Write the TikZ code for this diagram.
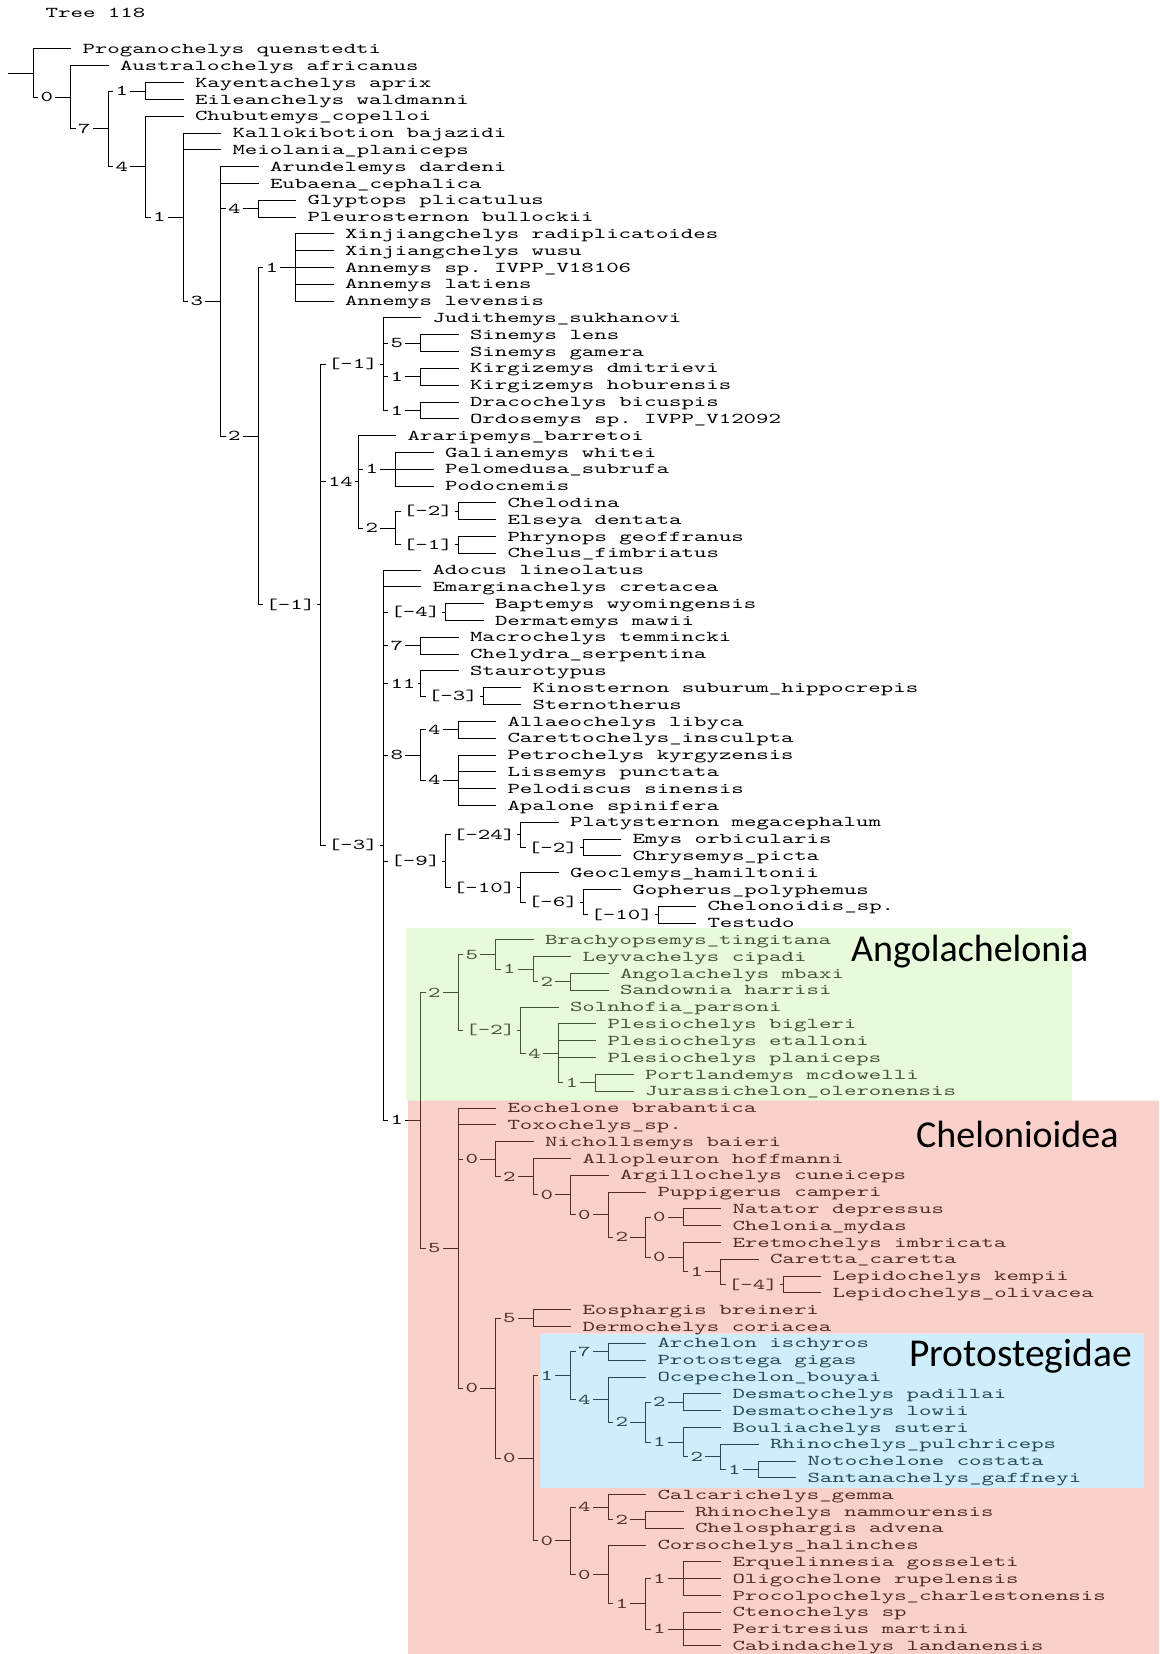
\documentclass[tikz,border=0pt]{standalone}
\usepackage{fontspec}
\usetikzlibrary{calc}
\frenchspacing
\newfontfamily\treefont{lmmono10-regular}[Extension=.otf,FakeStretch=1.58]
\newfontfamily\cladefont{Carlito}
\definecolor{ovgreen}{RGB}{189,246,155}
\definecolor{ovred}{RGB}{238,126,106}
\definecolor{ovblue}{RGB}{112,209,241}
\newcommand\ry[1]{49+(#1-1)*16.81}
\newcommand\leaf[5]{%
  \node[lf] (#1) at ({#3+49},{\ry{#4}}) {#5};
  \draw[br] (#2 |- #1.west) -- ([xshift=-11.5pt]#1.west);}
\newcommand\inode[6]{%
  \coordinate (#1) at ({#4},{\ry{(#5+#6)/2}});
  \coordinate (#1t) at ({#4},{\ry{#5}});
  \coordinate (#1b) at ({#4},{\ry{#6}});
  \draw[br] (#1t) -- (#1b);
  \node[lab] (#1l) at ($(#3 |- #1)+(4.5,0)$) {#2};
  \draw[br] (#3 |- #1) -- (#1l.west);
  \draw[br] (#1l.east) -- (#1);}
\tikzset{
  br/.style={line width=1pt, line cap=rect, black},
  lf/.style={anchor=west, inner sep=0pt, text height=9.2pt, text depth=0pt,
    font={\treefont\fontsize{15}{18}\selectfont}},
  lab/.style={anchor=west, inner xsep=2.5pt, inner ysep=0pt, text height=9.2pt, text depth=0pt,
    font={\treefont\fontsize{15}{18}\selectfont}},
  ttl/.style={anchor=base west, inner sep=0pt, font={\cladefont\fontsize{38}{44}\selectfont}},
}
\begin{document}
\begin{tikzpicture}[x=1pt,y=-1pt]
\path[use as bounding box] (0,0) rectangle (1159,1654);
\fill[white] (0,0) rectangle (1159,1654);
\node[lf] (title) at (45.5,12.7) {Tree 118};
% root
\coordinate (R) at (33.3,{\ry{2.43795}});
\coordinate (Rt) at (33.3,{\ry{1}});
\coordinate (Rb) at (33.3,{\ry{3.8759}});
\draw[br] (Rt) -- (Rb);
\coordinate (stub) at (8.3,{\ry{2.43795}});
\draw[br] (stub) -- (R);
% internal nodes
\inode{Na}{0}{R}{70.8}{2}{5.7518}
\inode{Nb}{7}{Na}{108.3}{3.5}{8.0036}
\inode{Nc}{1}{Nb}{145.8}{3}{4}
\inode{Nd}{4}{Nb}{145.8}{5}{11.0072}
\inode{Ne}{1}{Nd}{183.3}{6}{16.0144}
\inode{Nf}{3}{Ne}{220.8}{8}{24.0287}
\inode{Ng}{4}{Nf}{258.3}{10}{11}
\inode{Nh}{2}{Nf}{258.3}{14}{34.0574}
\inode{Ni}{1}{Nh}{295.8}{12}{16}
\inode{Nj}{[-1]}{Nh}{320.8}{19.75}{48.3647}
\inode{Nk}{[-1]}{Nj}{383.3}{17}{22.5}
\inode{Nl}{5}{Nk}{420.8}{18}{19}
\inode{Nm}{1}{Nk}{420.8}{20}{21}
\inode{Nn}{1}{Nk}{420.8}{22}{23}
\inode{No}{14}{Nj}{358.3}{24}{29.5}
\inode{Np}{1}{No}{395.8}{25}{27}
\inode{Nq}{2}{No}{395.8}{28.5}{30.5}
\inode{Nr}{[-2]}{Nq}{458.3}{28}{29}
\inode{Ns}{[-1]}{Nq}{458.3}{30}{31}
\inode{Nt}{[-3]}{Nj}{383.3}{32}{64.7295}
\inode{Nu}{[-4]}{Nt}{445.8}{34}{35}
\inode{Nv}{7}{Nt}{420.8}{36}{37}
\inode{Nw}{11}{Nt}{420.8}{38}{39.5}
\inode{Nx}{[-3]}{Nw}{483.3}{39}{40}
\inode{Ny}{8}{Nt}{420.8}{41.5}{44.5}
\inode{Nz}{4}{Ny}{458.3}{41}{42}
\inode{Ma}{4}{Ny}{458.3}{43}{46}
\inode{Mb}{[-9]}{Nt}{445.8}{47.75}{50.875}
\inode{Mc}{[-24]}{Mb}{520.8}{47}{48.5}
\inode{Md}{[-2]}{Mc}{583.3}{48}{49}
\inode{Me}{[-10]}{Mb}{520.8}{50}{51.75}
\inode{Mf}{[-6]}{Me}{583.3}{51}{52.5}
\inode{Mg}{[-10]}{Mf}{658.3}{52}{53}
\inode{Oa}{1}{Nt}{420.8}{57.125}{72.334}
\inode{Ob}{2}{Oa}{458.3}{54.875}{59.375}
\inode{Oc}{5}{Ob}{495.8}{54}{55.75}
\inode{Od}{1}{Oc}{533.3}{55}{56.5}
\inode{Oe}{2}{Od}{570.8}{56}{57}
\inode{Of}{[-2]}{Ob}{520.8}{58}{60.75}
\inode{Og}{4}{Of}{558.3}{59}{62.5}
\inode{Oi}{1}{Og}{595.8}{62}{63}
\inode{Oj}{5}{Oa}{458.3}{64}{80.668}
\inode{Ok}{0}{Oj}{495.8}{66}{68.0859}
\inode{Ol}{2}{Ok}{533.3}{67}{69.1719}
\inode{Om}{0}{Ol}{570.8}{68}{70.3438}
\inode{On}{0}{Om}{608.3}{69}{71.6875}
\inode{Oo}{2}{On}{645.8}{70.5}{72.875}
\inode{Op}{0}{Oo}{683.3}{70}{71}
\inode{Oq}{0}{Oo}{683.3}{72}{73.75}
\inode{Or}{1}{Oq}{720.8}{73}{74.5}
\inode{Ot}{[-4]}{Or}{783.3}{74}{75}
\inode{Os}{0}{Oj}{495.8}{76.5}{84.8359}
\inode{Ou}{5}{Os}{533.3}{76}{77}
\inode{Ov}{0}{Os}{533.3}{79.9219}{89.75}
\inode{Ow}{1}{Ov}{570.8}{78.5}{81.3438}
\inode{Ox}{7}{Ow}{608.3}{78}{79}
\inode{Oy}{4}{Ow}{608.3}{80}{82.6875}
\inode{Oz}{2}{Oy}{645.8}{81.5}{83.875}
\inode{Pa}{2}{Oz}{683.3}{81}{82}
\inode{Pb}{1}{Oz}{683.3}{83}{84.75}
\inode{Pc}{2}{Pb}{720.8}{84}{85.5}
\inode{Pd}{1}{Pc}{758.3}{85}{86}
\inode{Pe}{0}{Ov}{570.8}{87.75}{91.75}
\inode{Pf}{4}{Pe}{608.3}{87}{88.5}
\inode{Pg}{2}{Pf}{645.8}{88}{89}
\inode{Ph}{0}{Pe}{608.3}{90}{93.5}
\inode{Pi}{1}{Ph}{645.8}{92}{95}
\inode{Pj}{1}{Pi}{683.3}{91}{93}
\inode{Pk}{1}{Pi}{683.3}{94}{96}
% leaves
\leaf{l1}{R}{33.3}{1}{Proganochelys quenstedti}
\leaf{l2}{Na}{70.8}{2}{Australochelys africanus}
\leaf{l3}{Nc}{145.8}{3}{Kayentachelys aprix}
\leaf{l4}{Nc}{145.8}{4}{Eileanchelys waldmanni}
\leaf{l5}{Nd}{145.8}{5}{Chubutemys\_copelloi}
\leaf{l6}{Ne}{183.3}{6}{Kallokibotion bajazidi}
\leaf{l7}{Ne}{183.3}{7}{Meiolania\_planiceps}
\leaf{l8}{Nf}{220.8}{8}{Arundelemys dardeni}
\leaf{l9}{Nf}{220.8}{9}{Eubaena\_cephalica}
\leaf{l10}{Ng}{258.3}{10}{Glyptops plicatulus}
\leaf{l11}{Ng}{258.3}{11}{Pleurosternon bullockii}
\leaf{l12}{Ni}{295.8}{12}{Xinjiangchelys radiplicatoides}
\leaf{l13}{Ni}{295.8}{13}{Xinjiangchelys wusu}
\leaf{l14}{Ni}{295.8}{14}{Annemys sp. IVPP\_V18106}
\leaf{l15}{Ni}{295.8}{15}{Annemys latiens}
\leaf{l16}{Ni}{295.8}{16}{Annemys levensis}
\leaf{l17}{Nk}{383.3}{17}{Judithemys\_sukhanovi}
\leaf{l18}{Nl}{420.8}{18}{Sinemys lens}
\leaf{l19}{Nl}{420.8}{19}{Sinemys gamera}
\leaf{l20}{Nm}{420.8}{20}{Kirgizemys dmitrievi}
\leaf{l21}{Nm}{420.8}{21}{Kirgizemys hoburensis}
\leaf{l22}{Nn}{420.8}{22}{Dracochelys bicuspis}
\leaf{l23}{Nn}{420.8}{23}{Ordosemys sp. IVPP\_V12092}
\leaf{l24}{No}{358.3}{24}{Araripemys\_barretoi}
\leaf{l25}{Np}{395.8}{25}{Galianemys whitei}
\leaf{l26}{Np}{395.8}{26}{Pelomedusa\_subrufa}
\leaf{l27}{Np}{395.8}{27}{Podocnemis}
\leaf{l28}{Nr}{458.3}{28}{Chelodina}
\leaf{l29}{Nr}{458.3}{29}{Elseya dentata}
\leaf{l30}{Ns}{458.3}{30}{Phrynops geoffranus}
\leaf{l31}{Ns}{458.3}{31}{Chelus\_fimbriatus}
\leaf{l32}{Nt}{383.3}{32}{Adocus lineolatus}
\leaf{l33}{Nt}{383.3}{33}{Emarginachelys cretacea}
\leaf{l34}{Nu}{445.8}{34}{Baptemys wyomingensis}
\leaf{l35}{Nu}{445.8}{35}{Dermatemys mawii}
\leaf{l36}{Nv}{420.8}{36}{Macrochelys temmincki}
\leaf{l37}{Nv}{420.8}{37}{Chelydra\_serpentina}
\leaf{l38}{Nw}{420.8}{38}{Staurotypus}
\leaf{l39}{Nx}{483.3}{39}{Kinosternon suburum\_hippocrepis}
\leaf{l40}{Nx}{483.3}{40}{Sternotherus}
\leaf{l41}{Nz}{458.3}{41}{Allaeochelys libyca}
\leaf{l42}{Nz}{458.3}{42}{Carettochelys\_insculpta}
\leaf{l43}{Ma}{458.3}{43}{Petrochelys kyrgyzensis}
\leaf{l44}{Ma}{458.3}{44}{Lissemys punctata}
\leaf{l45}{Ma}{458.3}{45}{Pelodiscus sinensis}
\leaf{l46}{Ma}{458.3}{46}{Apalone spinifera}
\leaf{l47}{Mc}{520.8}{47}{Platysternon megacephalum}
\leaf{l48}{Md}{583.3}{48}{Emys orbicularis}
\leaf{l49}{Md}{583.3}{49}{Chrysemys\_picta}
\leaf{l50}{Me}{520.8}{50}{Geoclemys\_hamiltonii}
\leaf{l51}{Mf}{583.3}{51}{Gopherus\_polyphemus}
\leaf{l52}{Mg}{658.3}{52}{Chelonoidis\_sp.}
\leaf{l53}{Mg}{658.3}{53}{Testudo}
\leaf{l54}{Oc}{495.8}{54}{Brachyopsemys\_tingitana}
\leaf{l55}{Od}{533.3}{55}{Leyvachelys cipadi}
\leaf{l56}{Oe}{570.8}{56}{Angolachelys mbaxi}
\leaf{l57}{Oe}{570.8}{57}{Sandownia harrisi}
\leaf{l58}{Of}{520.8}{58}{Solnhofia\_parsoni}
\leaf{l59}{Og}{558.3}{59}{Plesiochelys bigleri}
\leaf{l60}{Og}{558.3}{60}{Plesiochelys etalloni}
\leaf{l61}{Og}{558.3}{61}{Plesiochelys planiceps}
\leaf{l62}{Oi}{595.8}{62}{Portlandemys mcdowelli}
\leaf{l63}{Oi}{595.8}{63}{Jurassichelon\_oleronensis}
\leaf{l64}{Oj}{458.3}{64}{Eochelone brabantica}
\leaf{l65}{Oj}{458.3}{65}{Toxochelys\_sp.}
\leaf{l66}{Ok}{495.8}{66}{Nichollsemys baieri}
\leaf{l67}{Ol}{533.3}{67}{Allopleuron hoffmanni}
\leaf{l68}{Om}{570.8}{68}{Argillochelys cuneiceps}
\leaf{l69}{On}{608.3}{69}{Puppigerus camperi}
\leaf{l70}{Op}{683.3}{70}{Natator depressus}
\leaf{l71}{Op}{683.3}{71}{Chelonia\_mydas}
\leaf{l72}{Oq}{683.3}{72}{Eretmochelys imbricata}
\leaf{l73}{Or}{720.8}{73}{Caretta\_caretta}
\leaf{l74}{Ot}{783.3}{74}{Lepidochelys kempii}
\leaf{l75}{Ot}{783.3}{75}{Lepidochelys\_olivacea}
\leaf{l76}{Ou}{533.3}{76}{Eosphargis breineri}
\leaf{l77}{Ou}{533.3}{77}{Dermochelys coriacea}
\leaf{l78}{Ox}{608.3}{78}{Archelon ischyros}
\leaf{l79}{Ox}{608.3}{79}{Protostega gigas}
\leaf{l80}{Oy}{608.3}{80}{Ocepechelon\_bouyai}
\leaf{l81}{Pa}{683.3}{81}{Desmatochelys padillai}
\leaf{l82}{Pa}{683.3}{82}{Desmatochelys lowii}
\leaf{l83}{Pb}{683.3}{83}{Bouliachelys suteri}
\leaf{l84}{Pc}{720.8}{84}{Rhinochelys\_pulchriceps}
\leaf{l85}{Pd}{758.3}{85}{Notochelone costata}
\leaf{l86}{Pd}{758.3}{86}{Santanachelys\_gaffneyi}
\leaf{l87}{Pf}{608.3}{87}{Calcarichelys\_gemma}
\leaf{l88}{Pg}{645.8}{88}{Rhinochelys nammourensis}
\leaf{l89}{Pg}{645.8}{89}{Chelosphargis advena}
\leaf{l90}{Ph}{608.3}{90}{Corsochelys\_halinches}
\leaf{l91}{Pj}{683.3}{91}{Erquelinnesia gosseleti}
\leaf{l92}{Pj}{683.3}{92}{Oligochelone rupelensis}
\leaf{l93}{Pj}{683.3}{93}{Procolpochelys\_charlestonensis}
\leaf{l94}{Pk}{683.3}{94}{Ctenochelys sp}
\leaf{l95}{Pk}{683.3}{95}{Peritresius martini}
\leaf{l96}{Pk}{683.3}{96}{Cabindachelys landanensis}
% clade overlays
\fill[ovgreen, fill opacity=0.35] (406,928) rectangle (1072,1100.5);
\fill[ovred, fill opacity=0.35, even odd rule] (408,1100.5) rectangle (1159,1654) (540,1333.5) rectangle (1144,1488);
\fill[ovblue, fill opacity=0.35] (540,1333.5) rectangle (1144,1488);
\node[ttl] (tA) at (851,961.7) {Angolachelonia};
\node[ttl] (tC) at (916,1147) {Chelonioidea};
\node[ttl, font={\cladefont\fontsize{39.5}{44}\selectfont}] (tP) at (909,1366.7) {Protostegidae};
\end{tikzpicture}
\end{document}
